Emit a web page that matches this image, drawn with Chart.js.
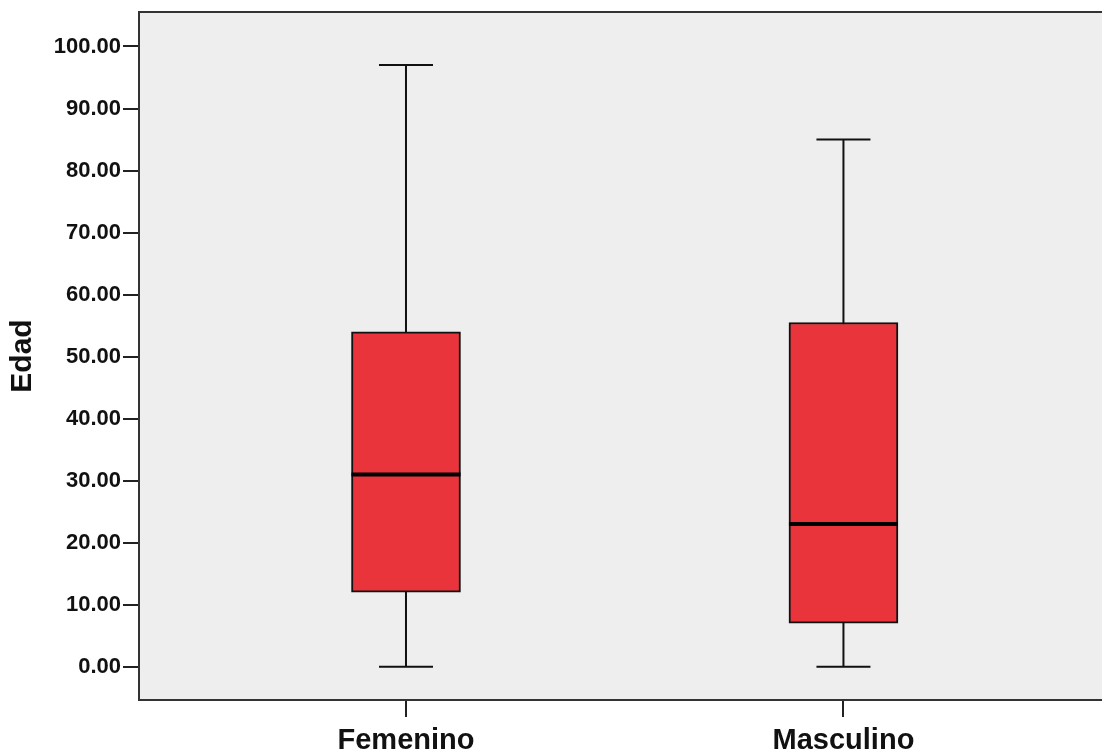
<!DOCTYPE html>
<html>
<head>
<meta charset="utf-8">
<script src="https://cdn.jsdelivr.net/npm/chart.js@4.4.1/dist/chart.umd.min.js"></script>
<style>
  html, body { margin: 0; padding: 0; background: #ffffff; }
  #wrap { width: 1102px; height: 751px; }
</style>
</head>
<body>
<div id="wrap"><canvas id="c" width="1102" height="751"></canvas></div>
<script>
// Age (Edad) distribution by sex
const categories = ['Femenino', 'Masculino'];
const whiskerLow = [0, 0];
const q1 = [12, 7];
const median = [31, 23];
const q3 = [54, 55.5];
const whiskerHigh = [97, 85];
const yTicks = [0, 10, 20, 30, 40, 50, 60, 70, 80, 90, 100];

const FONT = "'Liberation Sans', Arial, Helvetica, sans-serif";
const AXIS_COLOR = '#333333';

// Grey plotting panel with a closing top line
const panelPlugin = {
  id: 'panel',
  beforeDraw(chart) {
    const { ctx, chartArea: a } = chart;
    ctx.save();
    ctx.fillStyle = '#eeeeee';
    ctx.fillRect(a.left, a.top, a.right - a.left, a.bottom - a.top);
    ctx.strokeStyle = AXIS_COLOR;
    ctx.lineWidth = 2;
    ctx.beginPath();
    ctx.moveTo(a.left, a.top);
    ctx.lineTo(a.right, a.top);
    ctx.stroke();
    ctx.restore();
  }
};

// Whiskers (behind the boxes) and median lines (on top)
const boxPlugin = {
  id: 'boxWhiskers',
  beforeDatasetsDraw(chart) {
    const { ctx } = chart;
    const xs = chart.scales.x, ys = chart.scales.y;
    const capHalf = 27;
    ctx.save();
    ctx.strokeStyle = '#111111';
    ctx.lineWidth = 2;
    categories.forEach((c, i) => {
      const x = xs.getPixelForValue(i + 1);
      const yLo = ys.getPixelForValue(whiskerLow[i]);
      const yHi = ys.getPixelForValue(whiskerHigh[i]);
      ctx.beginPath();
      ctx.moveTo(x, yLo); ctx.lineTo(x, yHi);
      ctx.moveTo(x - capHalf, yLo); ctx.lineTo(x + capHalf, yLo);
      ctx.moveTo(x - capHalf, yHi); ctx.lineTo(x + capHalf, yHi);
      ctx.stroke();
    });
    ctx.restore();
  },
  afterDatasetsDraw(chart) {
    const { ctx } = chart;
    const meta = chart.getDatasetMeta(0);
    const xs = chart.scales.x, ys = chart.scales.y;
    ctx.save();
    ctx.strokeStyle = '#000000';
    ctx.lineWidth = 4;
    categories.forEach((c, i) => {
      const bar = meta.data[i];
      const half = bar.width / 2;
      const x = xs.getPixelForValue(i + 1);
      const y = ys.getPixelForValue(median[i]);
      ctx.beginPath();
      ctx.moveTo(x - half, y); ctx.lineTo(x + half, y);
      ctx.stroke();
    });
    ctx.restore();
  }
};

new Chart(document.getElementById('c'), {
  type: 'bar',
  data: {
    datasets: [{
      label: 'Edad',
      data: categories.map((c, i) => ({ x: i + 1, y: [q1[i], q3[i]] })),
      backgroundColor: '#e9343b',
      borderColor: '#111111',
      borderWidth: 2,
      borderSkipped: false,
      barThickness: 109
    }]
  },
  options: {
    responsive: false,
    devicePixelRatio: 1,
    animation: false,
    layout: { padding: { top: 12, right: 0, left: 0, bottom: 0 } },
    plugins: { legend: { display: false }, tooltip: { enabled: false } },
    scales: {
      x: {
        type: 'linear',
        offset: false,
        min: 0.3897,
        max: 2.591,
        afterBuildTicks(scale) { scale.ticks = categories.map((c, i) => ({ value: i + 1 })); },
        afterFit(scale) { scale.height = 51; scale.paddingLeft = 0; scale.paddingRight = 0; },
        grid: { offset: false, drawOnChartArea: false, drawTicks: true, tickLength: 17, color: '#222222', lineWidth: 2 },
        border: { display: true, color: AXIS_COLOR, width: 2 },
        ticks: {
          autoSkip: false,
          maxRotation: 0,
          padding: 7,
          color: '#111111',
          font: { family: FONT, size: 29, weight: 'bold' },
          callback: (v) => categories[v - 1] || ''
        }
      },
      y: {
        type: 'linear',
        min: -5.37,
        max: 105.56,
        afterBuildTicks(scale) { scale.ticks = yTicks.map(v => ({ value: v })); },
        afterFit(scale) { scale.width = 139; scale.paddingTop = 0; scale.paddingBottom = 0; },
        grid: { drawOnChartArea: false, drawTicks: true, tickLength: 16, color: '#222222', lineWidth: 2 },
        border: { display: true, color: AXIS_COLOR, width: 2 },
        title: {
          display: true,
          text: 'Edad',
          color: '#111111',
          font: { family: FONT, size: 30, weight: 'bold' },
          padding: { top: 5, bottom: 0 }
        },
        ticks: {
          padding: 2,
          color: '#111111',
          font: { family: FONT, size: 22, weight: 'bold' },
          callback: (v) => Number(v).toFixed(2)
        }
      }
    }
  },
  plugins: [panelPlugin, boxPlugin]
});
</script>
</body>
</html>
